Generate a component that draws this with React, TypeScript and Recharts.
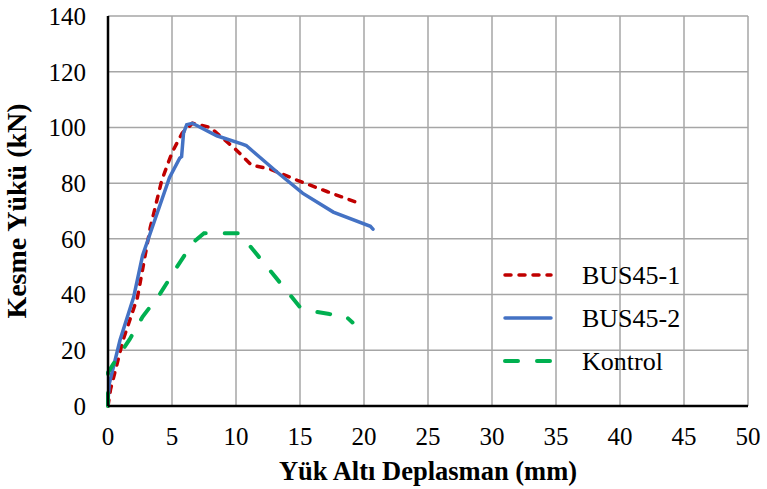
import { CartesianGrid, Label, Line, LineChart, XAxis, YAxis } from "recharts";

const xTicks = [0, 5, 10, 15, 20, 25, 30, 35, 40, 45, 50];
const yTicks = [0, 20, 40, 60, 80, 100, 120, 140];

// [displacement mm, load kN]
const bus451: number[][] = [
  [0, 0], [0.2, 6], [1.2, 24], [2.3, 39], [3.3, 64], [4.2, 81], [5, 91],
  [5.8, 98], [6.6, 101.5], [8, 100], [10, 92], [11.2, 86.5], [12.7, 85],
  [14.8, 81], [17.1, 77], [19.5, 73],
];
const bus452: number[][] = [
  [0, 2], [0.1, 8], [0.94, 23.7], [2, 39], [2.7, 54], [3.3, 62], [4.8, 82],
  [5.6, 89], [5.75, 89.5], [5.9, 98], [6.15, 101], [6.6, 101.5], [8.5, 97],
  [10.5, 94], [10.8, 93.5], [13.2, 84], [15.2, 76.4], [17.6, 69.6], [20.5, 64.5],
  [20.7, 63.5],
];
const kontrol: number[][] = [
  [0, 0], [0, 12], [0.4, 15], [1.7, 24], [2.7, 32], [4.1, 40.5], [5.4, 50],
  [6.6, 58.5], [7.5, 62], [9.8, 62], [10.2, 62], [10.9, 58.5], [13.4, 44.5],
  [15, 35.5], [16, 34], [17.3, 33], [18.5, 32.5], [19.1, 30],
];

const toPoints = (rows: number[][]) => rows.map(([x, y]) => ({ x, y }));

const series = [
  { name: "BUS45-1", data: toPoints(bus451), color: "#C00000", dash: "6 8", width: 3.5 },
  { name: "BUS45-2", data: toPoints(bus452), color: "#4472C4", dash: undefined, width: 3.5 },
  { name: "Kontrol", data: toPoints(kontrol), color: "#00B050", dash: "13 19", width: 4 },
];

const font = "'Liberation Serif', 'Times New Roman', serif";

// legend drawn on top of the plot, like the Excel one
const LegendBox = () => (
  <svg width={220} height={120} style={{ position: "absolute", left: 498, top: 255 }}>
    {series.map((s, i) => {
      const y = 20 + i * 43;
      return (
        <g key={s.name}>
          <line x1={7} x2={53} y1={y} y2={y} stroke={s.color} strokeWidth={s.width}
            strokeDasharray={s.dash} strokeLinecap="round" />
          <text x={84} y={y + 9} fontSize={26} fontFamily={font} fill="#000">{s.name}</text>
        </g>
      );
    })}
  </svg>
);

export default function App() {
  return (
    <div style={{ position: "absolute", left: 0, top: 0, width: 767, height: 489, background: "#fff" }}>
      <LineChart width={767} height={489} margin={{ top: 16, right: 19, bottom: 0, left: 0 }}>
        <CartesianGrid stroke="#a6a6a6" strokeWidth={1.5} />
        <XAxis
          type="number"
          dataKey="x"
          domain={[0, 50]}
          ticks={xTicks}
          tickSize={0}
          tickMargin={21}
          height={83}
          stroke="#000"
          strokeWidth={2.5}
          tick={{ fill: "#000", fontSize: 25, fontFamily: font }}
        >
          <Label value="Yük Altı Deplasman (mm)" position="insideBottom" offset={9}
            style={{ fill: "#000", fontSize: 26.5, fontWeight: "bold", fontFamily: font }} />
        </XAxis>
        <YAxis
          type="number"
          dataKey="y"
          domain={[0, 140]}
          ticks={yTicks}
          tickSize={0}
          tickMargin={22}
          width={108}
          stroke="#000"
          strokeWidth={2.5}
          tick={{ fill: "#000", fontSize: 25, fontFamily: font }}
        >
          <Label value="Kesme Yükü (kN)" angle={-90} position="insideLeft" offset={16}
            style={{ fill: "#000", fontSize: 28, fontWeight: "bold", fontFamily: font, textAnchor: "middle" }} />
        </YAxis>
        {series.map((s) => (
          <Line
            key={s.name}
            name={s.name}
            data={s.data}
            dataKey="y"
            type="linear"
            stroke={s.color}
            strokeWidth={s.width}
            strokeDasharray={s.dash}
            strokeLinecap="round"
            dot={false}
            isAnimationActive={false}
          />
        ))}
      </LineChart>
      <LegendBox />
    </div>
  );
}
